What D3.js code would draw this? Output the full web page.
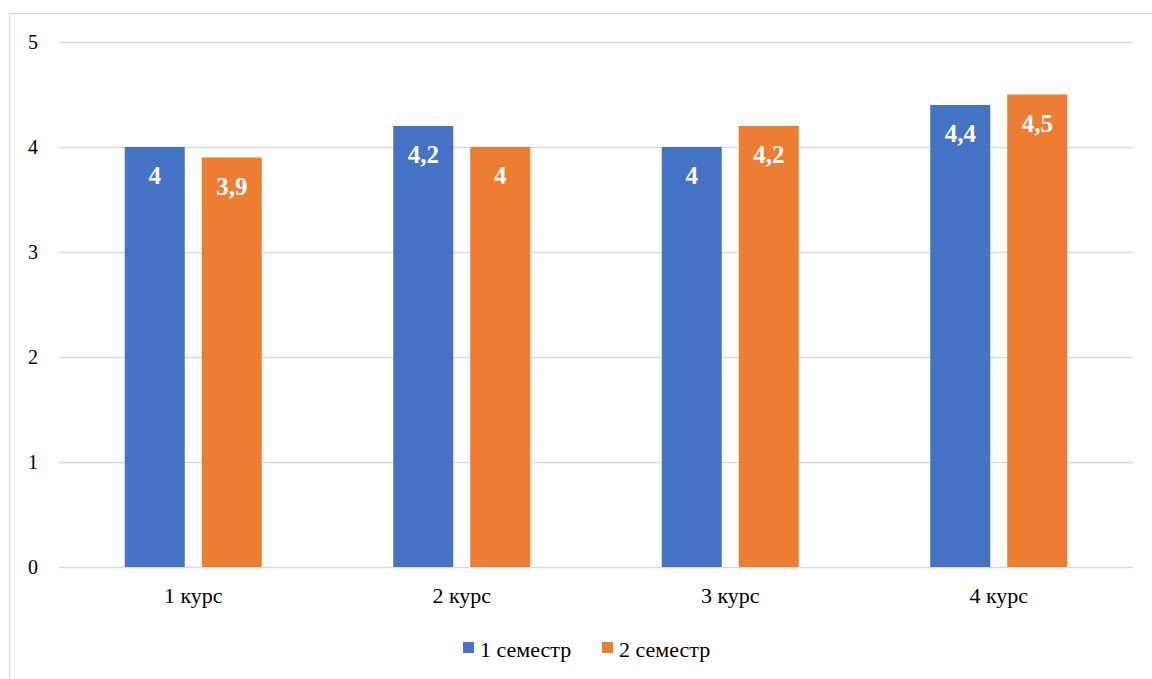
<!DOCTYPE html>
<html><head><meta charset="utf-8">
<script src="https://cdn.jsdelivr.net/npm/d3@7"></script>
<style>body{margin:0;background:#fff}svg{display:block}
svg text{font-family:"Liberation Serif",Tinos,"Times New Roman","Nimbus Roman","DejaVu Serif","Noto Serif",serif}</style>
</head><body>
<svg id="c" width="1152" height="679"></svg>
<script>
const categories = ["1 курс","2 курс","3 курс","4 курс"];
const seriesNames = ["1 семестр","2 семестр"];
const sem1 = [4, 4.2, 4, 4.4];
const sem2 = [3.9, 4, 4.2, 4.5];
const yTicks = [0,1,2,3,4,5];
const colors = ["#4472C4","#ED7D31"];

const svg = d3.select("#c");
svg.append("rect").attr("x",9.5).attr("y",13.5).attr("width",1160).attr("height",700)
  .attr("fill","#fff").attr("stroke","#d9d9d9").attr("stroke-width",1);

const x = d3.scaleBand().domain(categories).range([59,1133]).paddingInner(0).paddingOuter(0);
const y = d3.scaleLinear().domain([0,5]).range([567,42]);
const inner = d3.scaleBand().domain(seriesNames).range([0,137]).paddingInner(17/77);

const g = svg.append("g");
g.selectAll("line.grid").data(yTicks).join("line")
  .attr("x1",59).attr("x2",1133).attr("y1",d=>Math.round(y(d))+0.5).attr("y2",d=>Math.round(y(d))+0.5)
  .attr("stroke","#d9d9d9").attr("stroke-width",1.5);

g.selectAll("text.yt").data(yTicks).join("text")
  .attr("x",38).attr("y",d=>y(d)).attr("dy","0.35em").attr("text-anchor","end")
  .attr("font-size",20).attr("fill","#000").text(d=>d);

const data = categories.map((c,i)=>({c, vals:[sem1[i],sem2[i]]}));
const grp = g.selectAll("g.cat").data(data).join("g")
  .attr("transform",d=>`translate(${x(d.c)+x.bandwidth()/2-68.5},0)`);
grp.selectAll("rect").data(d=>d.vals.map((v,k)=>({v,k}))).join("rect")
  .attr("x",d=>inner(seriesNames[d.k])).attr("width",inner.bandwidth())
  .attr("y",d=>y(d.v)).attr("height",d=>y(0)-y(d.v)).attr("fill",d=>colors[d.k]);
grp.selectAll("text").data(d=>d.vals.map((v,k)=>({v,k}))).join("text")
  .attr("x",d=>inner(seriesNames[d.k])+inner.bandwidth()/2).attr("y",d=>y(d.v)+37)
  .attr("text-anchor","middle").attr("font-weight","bold")
  .attr("font-size",25).attr("fill","#fff").text(d=>String(d.v).replace(".",","));

g.selectAll("text.cat").data(categories).join("text")
  .attr("x",d=>x(d)+x.bandwidth()/2).attr("y",603).attr("text-anchor","middle")
  .attr("font-size",22).attr("fill","#000").text(d=>d);

const legX = [463, 602];
const leg = g.selectAll("g.leg").data(seriesNames).join("g")
  .attr("transform",(d,i)=>`translate(${legX[i]},0)`);
leg.append("rect").attr("x",0).attr("y",642).attr("width",11).attr("height",11).attr("fill",(d,i)=>colors[i]);
leg.append("text").attr("x",17).attr("y",657).attr("font-size",22)
  .attr("fill","#000").text(d=>d);
</script>
</body></html>
